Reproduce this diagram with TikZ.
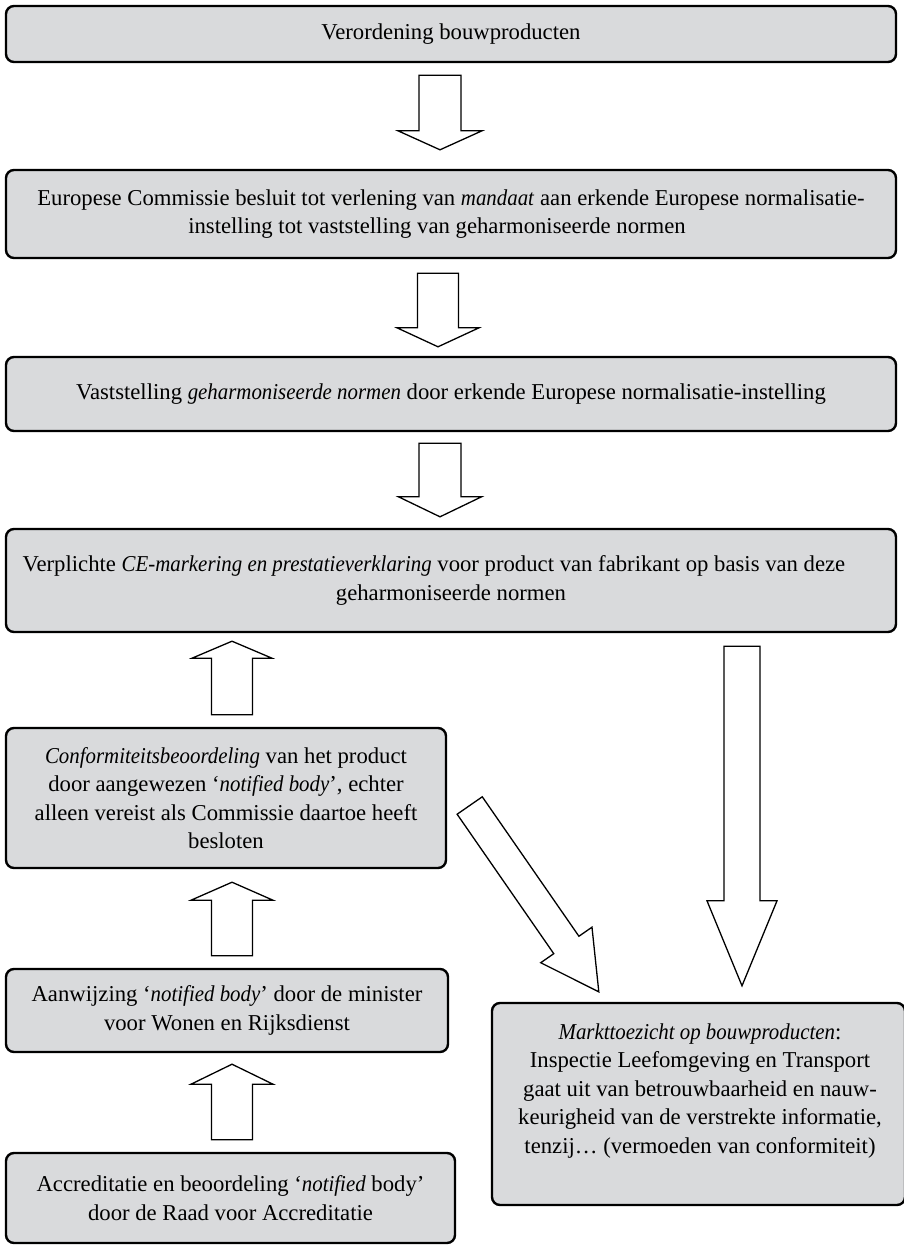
\documentclass[tikz,border=0pt]{standalone}
\usepackage{fontspec}
\setmainfont{Liberation Serif}[ItalicFeatures={FakeStretch=0.92}]
\usetikzlibrary{calc}
\definecolor{boxgray}{RGB}{217,218,220}
\tikzset{
  box/.style={draw=black, line width=2.4pt, fill=boxgray, rounded corners=8pt,
    align=center, inner sep=0pt, font=\fontsize{22.7}{28.5}\selectfont},
  boxtext/.style={align=center, inner sep=0pt, font=\fontsize{22.7}{28.5}\selectfont},
  blockarrow/.style={draw=black, line width=1.3pt, fill=white, line join=miter},
}
% hollow block arrow: #1 tail, #2 tip, #3 shaft half-width, #4 head half-width, #5 head length
\newcommand\blockarrow[5]{%
  \coordinate (ba-base) at ($(#2)!#5!(#1)$);
  \draw[blockarrow] ($(#1)!#3!90:(#2)$) -- ($(ba-base)!#3!90:(#2)$)
    -- ($(ba-base)!#4!90:(#2)$) -- (#2) -- ($(ba-base)!#4!-90:(#2)$)
    -- ($(ba-base)!#3!-90:(#2)$) -- ($(#1)!#3!-90:(#2)$) -- cycle;
}
\begin{document}
\begin{tikzpicture}[x=1pt,y=-1pt]
\useasboundingbox (0,0) rectangle (903,1250);

% main chain
\node[box, minimum width=890pt, minimum height=56pt] (b1) at (451,34)
  {Verordening bouwproducten};
\node[box, minimum width=890pt, minimum height=88pt] (b2) at (451,214)
  {Europese Commissie besluit tot verlening van \textit{mandaat} aan erkende Europese normalisatie-\\
   instelling tot vaststelling van geharmoniseerde normen\hspace*{28pt}};
\node[box, minimum width=890pt, minimum height=74pt] (b3) at (451,394)
  {Vaststelling \textit{geharmoniseerde normen} door erkende Europese normalisatie-instelling};
\node[box, minimum width=890pt, minimum height=103pt] (b4) at (451,580.5)
  {Verplichte \textit{CE-markering en prestatieverklaring} voor product van fabrikant op basis van deze\hspace*{34pt}\\
   geharmoniseerde normen};

% left column
\node[box, minimum width=440pt, minimum height=140pt] (b5) at (226,798)
  {\textit{Conformiteitsbeoordeling} van het product\\
   door aangewezen ‘\textit{notified body}’, echter\\
   alleen vereist als Commissie daartoe heeft\\
   besloten};
\node[box, minimum width=442pt, minimum height=83pt] (b6) at (227,1010.5)
  {Aanwijzing ‘\textit{notified body}’ door de minister\\
   voor Wonen en Rijksdienst};
\node[box, minimum width=449pt, minimum height=90pt] (b7) at (230.5,1198)
  {Accreditatie en beoordeling ‘\textit{notified} body’\\
   door de Raad voor Accreditatie};

% market surveillance
\node[box, minimum width=413pt, minimum height=202pt] (b8) at (698.5,1104) {};
\node[boxtext] (b8t) at (700,1091)
  {\textit{Markttoezicht op bouwproducten}:\\
   Inspectie Leefomgeving en Transport\\
   gaat uit van betrouwbaarheid en nauw-\\
   keurigheid van de verstrekte informatie,\\
   tenzij… (vermoeden van conformiteit)};

% arrow end points
\coordinate (a1t) at ($(b1.south)+(-11,12)$);
\coordinate (a1h) at ($(a1t |- b2.north)+(0,-19)$);
\coordinate (a2t) at ($(b2.south)+(-13,14)$);
\coordinate (a2h) at ($(a2t |- b3.north)+(0,-9)$);
\coordinate (a3t) at ($(b3.south)+(-11,11)$);
\coordinate (a3h) at ($(a3t |- b4.north)+(0,-11)$);
\coordinate (u1t) at ($(b5.north)+(6,-12)$);
\coordinate (u1h) at ($(u1t |- b4.south)+(0,8)$);
\coordinate (u2t) at ($(b6.north)+(5,-12)$);
\coordinate (u2h) at ($(u2t |- b5.south)+(0,13)$);
\coordinate (u3t) at ($(b7.north)+(1.5,-12)$);
\coordinate (u3h) at ($(u3t |- b6.south)+(0,11)$);
\coordinate (dt) at ($(b4.south)+(291,13)$);
\coordinate (dh) at ($(dt |- b8.north)+(0,-16)$);
\coordinate (gt) at ($(b5.east)+(22.5,7.5)$);
\coordinate (gh) at ($(b8.north west)+(108,-10)$);

% arrows
\blockarrow{a1t}{a1h}{21pt}{42pt}{19pt}
\blockarrow{a2t}{a2h}{20.5pt}{41pt}{19pt}
\blockarrow{a3t}{a3h}{21pt}{41.5pt}{20pt}
\blockarrow{u1t}{u1h}{20.5pt}{40pt}{17pt}
\blockarrow{u2t}{u2h}{20.5pt}{41pt}{18pt}
\blockarrow{u3t}{u3h}{20.5pt}{41pt}{20pt}
\blockarrow{dt}{dh}{18pt}{35pt}{85pt}
\blockarrow{gt}{gh}{15.3pt}{31.2pt}{57pt}
\end{tikzpicture}
\end{document}
